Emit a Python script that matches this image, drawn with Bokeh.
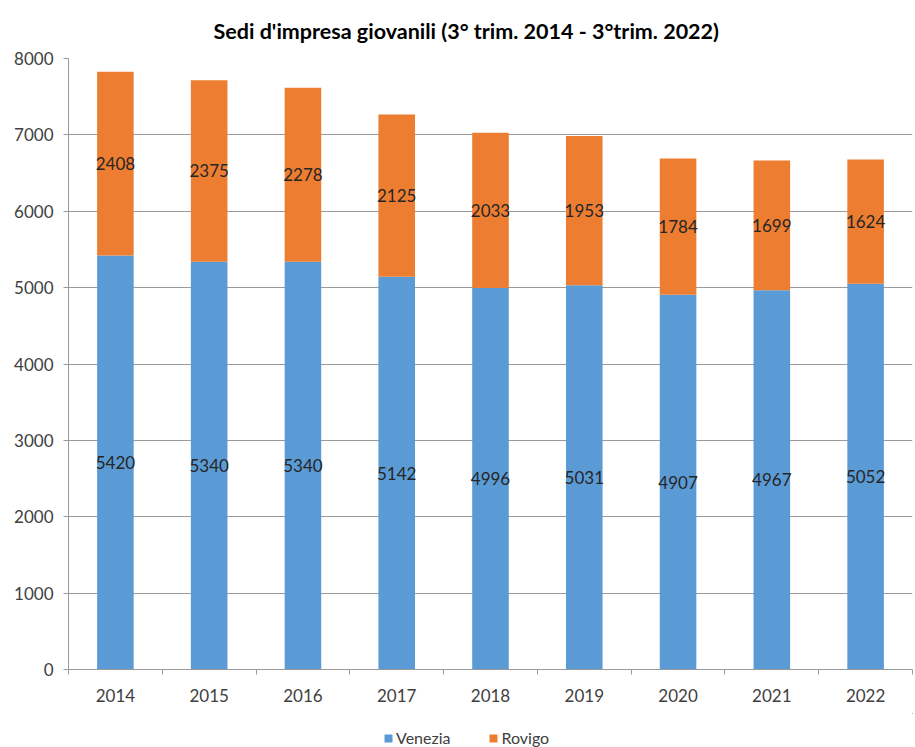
from bokeh.plotting import figure
from bokeh.layouts import column
from bokeh.models import (ColumnDataSource, FixedTicker, Legend, LegendItem,
                          Range1d, LabelSet, Title)
from bokeh.core.properties import value
from bokeh.embed import file_html
from bokeh.resources import INLINE

# ---- data ----
years = ["2014", "2015", "2016", "2017", "2018", "2019", "2020", "2021", "2022"]
venezia = [5420, 5340, 5340, 5142, 4996, 5031, 4907, 4967, 5052]
rovigo = [2408, 2375, 2278, 2125, 2033, 1953, 1784, 1699, 1624]
series_names = ["Venezia", "Rovigo"]
colors = ["#5B9BD5", "#ED7D31"]
y_ticks = [0, 1000, 2000, 3000, 4000, 5000, 6000, 7000, 8000]
title_text = "Sedi d'impresa giovanili (3° trim. 2014 - 3°trim. 2022)"

FONT = "Lato"
AXIS_GREY = "#9a9a9a"
TXT = "#404040"

n = len(years)
xs = [i + 0.5 for i in range(n)]
src = ColumnDataSource(dict(
    x=xs,
    Venezia=venezia,
    Rovigo=rovigo,
    ven_mid=[v / 2 for v in venezia],
    rov_mid=[v + r / 2 for v, r in zip(venezia, rovigo)],
    ven_lbl=[str(v) for v in venezia],
    rov_lbl=[str(r) for r in rovigo],
))

p = figure(width=915, height=713, x_range=Range1d(0, n), y_range=Range1d(0, 8000),
           output_backend="svg", toolbar_location=None,
           min_border_left=68, min_border_right=3, min_border_top=58,
           min_border_bottom=44)
p.outline_line_color = None
p.background_fill_color = "white"
p.border_fill_color = "white"

p.title = Title(text=title_text, text_font=FONT, text_font_size="21.5px",
                text_font_style="bold", text_color="#000000", align="left",
                offset=145, standoff=29)

renderers = p.vbar_stack(series_names, x="x", width=0.39, color=colors,
                         source=src, line_color=None)

# labels
lbl_kw = dict(text_align="center", text_baseline="middle", text_font=value(FONT),
              text_font_size="17px", text_color="#262626", source=src)
p.add_layout(LabelSet(x="x", y="ven_mid", text="ven_lbl", **lbl_kw))
p.add_layout(LabelSet(x="x", y="rov_mid", text="rov_lbl", **lbl_kw))

# x axis
xax = p.xaxis[0]
xax.ticker = FixedTicker(ticks=xs, minor_ticks=list(range(n + 1)))
xax.major_label_overrides = {x: y for x, y in zip(xs, years)}
xax.major_tick_out = 0
xax.major_tick_in = 0
xax.minor_tick_out = 5
xax.minor_tick_in = 0
xax.minor_tick_line_color = AXIS_GREY
xax.axis_line_color = AXIS_GREY
xax.major_label_standoff = 14
xax.major_label_text_font = FONT
xax.major_label_text_font_size = "17px"
xax.major_label_text_color = TXT

# y axis
yax = p.yaxis[0]
yax.ticker = FixedTicker(ticks=y_ticks)
yax.minor_tick_line_color = None
yax.major_tick_in = 0
yax.major_tick_out = 5
yax.major_tick_line_color = AXIS_GREY
yax.axis_line_color = AXIS_GREY
yax.major_label_text_font = FONT
yax.major_label_text_font_size = "17px"
yax.major_label_text_color = TXT
yax.major_label_standoff = 10

p.xgrid.grid_line_color = None
p.ygrid.ticker = FixedTicker(ticks=y_ticks)
p.ygrid.grid_line_color = AXIS_GREY
p.ygrid.grid_line_width = 1

# legend strip (small figure below the chart; its bars lie outside its view)
lg = figure(width=915, height=34, x_range=Range1d(-20, -19), y_range=Range1d(-20, -19),
            output_backend="svg", toolbar_location=None,
            x_axis_location=None, y_axis_location=None,
            min_border_left=0, min_border_right=0, min_border_top=0,
            min_border_bottom=0)
lg.grid.visible = False
lg.outline_line_color = None
lg.background_fill_color = "white"
lg.border_fill_color = "white"
lg_renderers = lg.vbar_stack(series_names, x="x", width=0.39, color=colors,
                             source=src, line_color=None)
legend = Legend(items=[LegendItem(label=name, renderers=[r])
                       for name, r in zip(series_names, lg_renderers)],
                orientation="horizontal", location=(315, 0),
                label_text_font=FONT, label_text_font_size="16px",
                label_text_color=TXT, glyph_width=10, glyph_height=10,
                label_standoff=3, spacing=38, padding=2, margin=0,
                border_line_color=None, background_fill_alpha=0)
lg.add_layout(legend, "center")

layout = column(p, lg, spacing=0)
open("out.html", "w").write(file_html(layout, INLINE))
